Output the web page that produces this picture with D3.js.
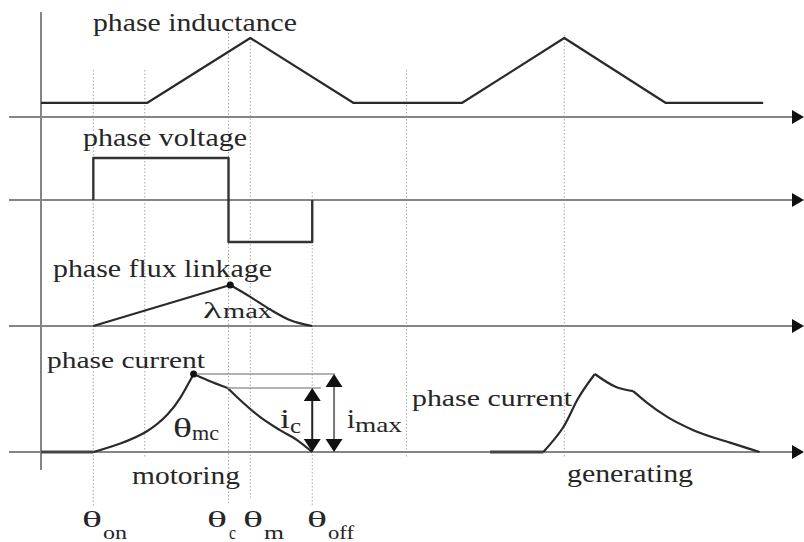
<!DOCTYPE html>
<html>
<head>
<meta charset="utf-8">
<script src="https://cdn.jsdelivr.net/npm/d3@7"></script>
<style>
  body { margin: 0; background: #fff; }
  svg text { font-family: "Liberation Serif", "Times New Roman", Times, serif; fill: #262626; }
</style>
</head>
<body>
<svg id="chart"></svg>
<script>
var width = 804;
var height = 542;

// rotor position in electrical degrees
var guideAngles = [60, 119, 215, 240, 311, 419, 600];
var thetaSubs = ["on", "c", "m", "off"];

// phase inductance, per unit
var inductance = [[0, 0.18], [122, 0.18], [240, 1], [358, 0.18], [483, 0.18], [600, 1], [716, 0.18], [828, 0.18]];
// phase voltage, +1 / -1
var voltage = [[60, 0], [60, 1], [215, 1], [215, -1], [311, -1], [311, 0]];
// phase flux linkage, per unit of lambda max
var fluxRise = [[60, 0], [217, 1]];
var fluxFall = [[217, 1], [240, 0.71], [263, 0.40], [286, 0.14], [311, 0]];
// motoring phase current, per unit of i max
var motorFlat = [[0, 0], [60, 0]];
var motorRise = [[60, 0], [91, 0.11], [122, 0.27], [145, 0.48], [160, 0.7], [175, 1]];
var motorFall1 = [[175, 1], [191, 0.92], [214, 0.82]];
var motorFall2 = [[214, 0.82], [228, 0.67], [251, 0.45], [274, 0.28], [294, 0.15], [311, 0]];
// generating phase current
var genFlat = [[515, 0], [576, 0]];
var genRise = [[576, 0], [599, 0.32], [615, 0.67], [635, 1]];
var genFall1 = [[635, 1], [660, 0.83], [679, 0.78]];
var genFall2 = [[679, 0.78], [695, 0.63], [718, 0.45], [748, 0.28], [790, 0.12], [824, 0]];

var iC = 0.82;
var iMax = 1;
var icArrowAngle = 311;
var imaxArrowAngle = 336;

//++++++++++++++++++++++++++++++++++++++++++++++++++++++++++++++++

var svg = d3.select("#chart").attr("width", width).attr("height", height);

var xScale = d3.scaleLinear().domain([0, 840]).range([41, 773.6]);
var yL = d3.scaleLinear().domain([0, 1]).range([117, 38]);
var yV = d3.scaleLinear().domain([-1, 1]).range([242, 158]);
var yF = d3.scaleLinear().domain([0, 1]).range([326, 285]);
var yI = d3.scaleLinear().domain([0, 1]).range([452, 374]);

// dotted guide lines
var guideExtent = { 60: [70, 507], 119: [70, 458], 215: [33, 503], 240: [38, 500], 311: [192, 507], 419: [70, 458], 600: [35, 458] };
svg.selectAll(".guide")
  .data(guideAngles)
  .enter()
  .append("line")
  .attr("class", "guide")
  .attr("x1", function (d) { return xScale(d); })
  .attr("x2", function (d) { return xScale(d); })
  .attr("y1", function (d) { return guideExtent[d][0]; })
  .attr("y2", function (d) { return guideExtent[d][1]; })
  .attr("stroke", "#a8a8a8")
  .attr("stroke-width", 1)
  .attr("stroke-dasharray", "1.5,2");

// horizontal axes with arrow heads
var baselines = [yL(0), yV(0), yF(0), yI(0)];
baselines.forEach(function (y) {
  svg.append("line")
    .attr("x1", 9).attr("x2", 794)
    .attr("y1", y).attr("y2", y)
    .attr("stroke", "#858585")
    .attr("stroke-width", 2.2);
  svg.append("path")
    .attr("d", "M792," + (y - 7) + "L804," + y + "L792," + (y + 7) + "Z")
    .attr("fill", "#111");
});

// vertical axis
svg.append("line")
  .attr("x1", xScale(0)).attr("x2", xScale(0))
  .attr("y1", 12).attr("y2", 470)
  .attr("stroke", "#858585")
  .attr("stroke-width", 2);

function drawCurve(data, yScale, curve, color, w) {
  var line = d3.line()
    .x(function (d) { return xScale(d[0]); })
    .y(function (d) { return yScale(d[1]); })
    .curve(curve);
  svg.append("path")
    .attr("d", line(data))
    .attr("fill", "none")
    .attr("stroke", color || "#2a2a2a")
    .attr("stroke-width", w || 2.2)
    .attr("stroke-linejoin", "round");
}

drawCurve(inductance, yL, d3.curveLinear);
drawCurve(voltage, yV, d3.curveLinear, "#333", 2.4);
drawCurve(fluxRise, yF, d3.curveLinear);
drawCurve(fluxFall, yF, d3.curveMonotoneX);
drawCurve(motorFlat, yI, d3.curveLinear, "#444", 3);
drawCurve(motorRise, yI, d3.curveNatural);
drawCurve(motorFall1, yI, d3.curveMonotoneX);
drawCurve(motorFall2, yI, d3.curveMonotoneX);
drawCurve(genFlat, yI, d3.curveLinear, "#444", 3);
drawCurve(genRise, yI, d3.curveNatural);
drawCurve(genFall1, yI, d3.curveMonotoneX);
drawCurve(genFall2, yI, d3.curveMonotoneX);

// peak dots
svg.append("circle").attr("cx", xScale(fluxFall[0][0])).attr("cy", yF(1)).attr("r", 3.5).attr("fill", "#111");
svg.append("circle").attr("cx", xScale(motorFall1[0][0])).attr("cy", yI(iMax)).attr("r", 3.5).attr("fill", "#111");

// lead lines for i max and i c
svg.append("line")
  .attr("x1", xScale(motorFall1[0][0]) + 3).attr("x2", xScale(imaxArrowAngle + 1))
  .attr("y1", yI(iMax)).attr("y2", yI(iMax))
  .attr("stroke", "#999").attr("stroke-width", 1.5);
svg.append("line")
  .attr("x1", xScale(motorFall2[0][0])).attr("x2", xScale(icArrowAngle + 10))
  .attr("y1", yI(iC)).attr("y2", yI(iC))
  .attr("stroke", "#999").attr("stroke-width", 1.5);

function doubleArrow(angle, top, shaftColor) {
  var x = xScale(angle), y0 = yI(0), y1 = yI(top);
  svg.append("line")
    .attr("x1", x).attr("x2", x)
    .attr("y1", y1 + 10).attr("y2", y0 - 10)
    .attr("stroke", shaftColor).attr("stroke-width", 2);
  svg.append("path")
    .attr("d", "M" + x + "," + y1 + "L" + (x + 8.5) + "," + (y1 + 13) + "L" + (x - 8.5) + "," + (y1 + 13) + "Z")
    .attr("fill", "#111");
  svg.append("path")
    .attr("d", "M" + x + "," + y0 + "L" + (x + 8.5) + "," + (y0 - 13) + "L" + (x - 8.5) + "," + (y0 - 13) + "Z")
    .attr("fill", "#111");
}
doubleArrow(icArrowAngle, iC, "#222");
doubleArrow(imaxArrowAngle, iMax, "#777");

// labels
function label(x, y, str, size, len) {
  var t = svg.append("text")
    .attr("x", x).attr("y", y)
    .style("font-size", size + "px")
    .text(str);
  if (len) t.attr("textLength", len).attr("lengthAdjust", "spacingAndGlyphs");
  return t;
}

label(93, 31, "phase inductance", 25, 204);
label(83, 146, "phase voltage", 25, 164);
label(53, 277, "phase flux linkage", 25, 219);
label(203, 318, "\u03bb", 24, 19);
label(223, 318, "max", 20, 49);
label(47, 368, "phase current", 24, 158);
label(412, 406, "phase current", 24, 160);
label(173, 437, "\u03b8", 27, 19);
label(192, 440, "mc", 22, 27);
label(280, 428, "i", 27, 10);
label(290, 433, "c", 20, 11);
label(347, 428, "i", 27, 8);
label(355, 432, "max", 22, 47);
label(132, 484, "motoring", 25, 108);
label(567, 482, "generating", 25, 126);

// angle labels under the plot
var thetaX = [82, 207, 243, 307];
var subX = [103, 229, 264, 328];
var subLen = [24, 7, 20, 26];
thetaSubs.forEach(function (s, i) {
  label(thetaX[i], 527, "\u03b8", 24, 20);
  label(subX[i], 539, s, 19, subLen[i]);
});
</script>
</body>
</html>
